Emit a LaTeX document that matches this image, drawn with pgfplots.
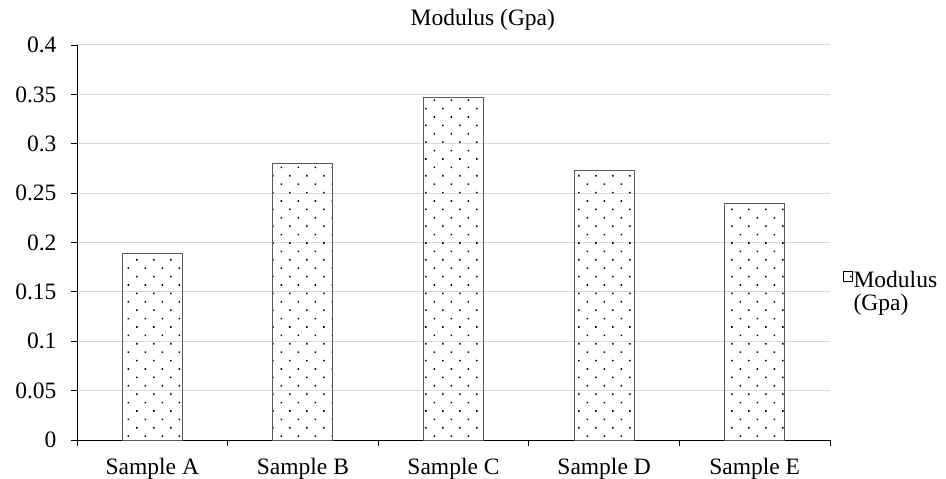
\documentclass[border=0pt]{standalone}
\usepackage{pgfplots}
\pgfplotsset{compat=1.18}
\usepackage{fontspec}
\setmainfont{Liberation Serif}
\usetikzlibrary{patterns}
\pgfdeclarepatternformonly{exceldots}{\pgfpoint{-1bp}{-1bp}}{\pgfpoint{18bp}{18bp}}{\pgfpoint{17bp}{16.8bp}}{%
  \pgfpathrectangle{\pgfpoint{0bp}{0bp}}{\pgfpoint{1.6bp}{1.6bp}}%
  \pgfpathrectangle{\pgfpoint{8.5bp}{8.4bp}}{\pgfpoint{1.6bp}{1.6bp}}%
  \pgfusepath{fill}}
\definecolor{gridgray}{HTML}{D9D9D9}
\definecolor{baredge}{HTML}{595959}
\begin{document}
\begin{tikzpicture}
\useasboundingbox (-77bp,-39bp) rectangle (869bp,440bp);
\begin{axis}[
  at={(0,0)}, anchor=south west,
  scale only axis, width=753bp, height=395bp,
  font=\fontsize{23.5bp}{25bp}\selectfont,
  xmin=-0.5, xmax=4.5, ymin=0, ymax=0.4,
  axis x line*=bottom, axis y line*=left,
  axis line style={black, line width=0.8bp},
  xtick={-0.5,0.5,1.5,2.5,3.5,4.5},
  x tick label as interval,
  xticklabels={Sample A,Sample B,Sample C,Sample D,Sample E},
  xticklabel style={yshift=-9bp},
  ytick={0,0.05,0.1,0.15,0.2,0.25,0.3,0.35,0.4},
  yticklabels={0,0.05,0.1,0.15,0.2,0.25,0.3,0.35,0.4},
  yticklabel style={xshift=-11bp},
  tick align=outside, major tick length=6bp,
  tick style={black, line width=0.8bp},
  ymajorgrids, major grid style={gridgray, line width=1bp},
  ybar, bar width=60bp,
  title={Modulus (Gpa)},
  title style={at={(0.539,1)}, anchor=base, yshift=14bp, inner sep=0pt},
  legend style={draw=none, fill=none, at={(1.017,0.4304)}, anchor=north west,
    inner sep=0pt, row sep=0bp, column sep=1bp,
    nodes={inner sep=0pt, text height=17bp, text depth=6bp}},
  legend cell align=left,
  legend image code/.code={\draw[pattern=exceldots, draw=black, line width=0.6bp] (0bp,0bp) rectangle (9bp,10bp);},
]
\addplot[draw=baredge, line width=1bp, pattern=exceldots] coordinates {(0,0.189) (1,0.2805) (2,0.347) (3,0.273) (4,0.2395)};
\addlegendentry{Modulus}
\addlegendimage{empty legend}
\addlegendentry{(Gpa)}
\end{axis}
\end{tikzpicture}
\end{document}
